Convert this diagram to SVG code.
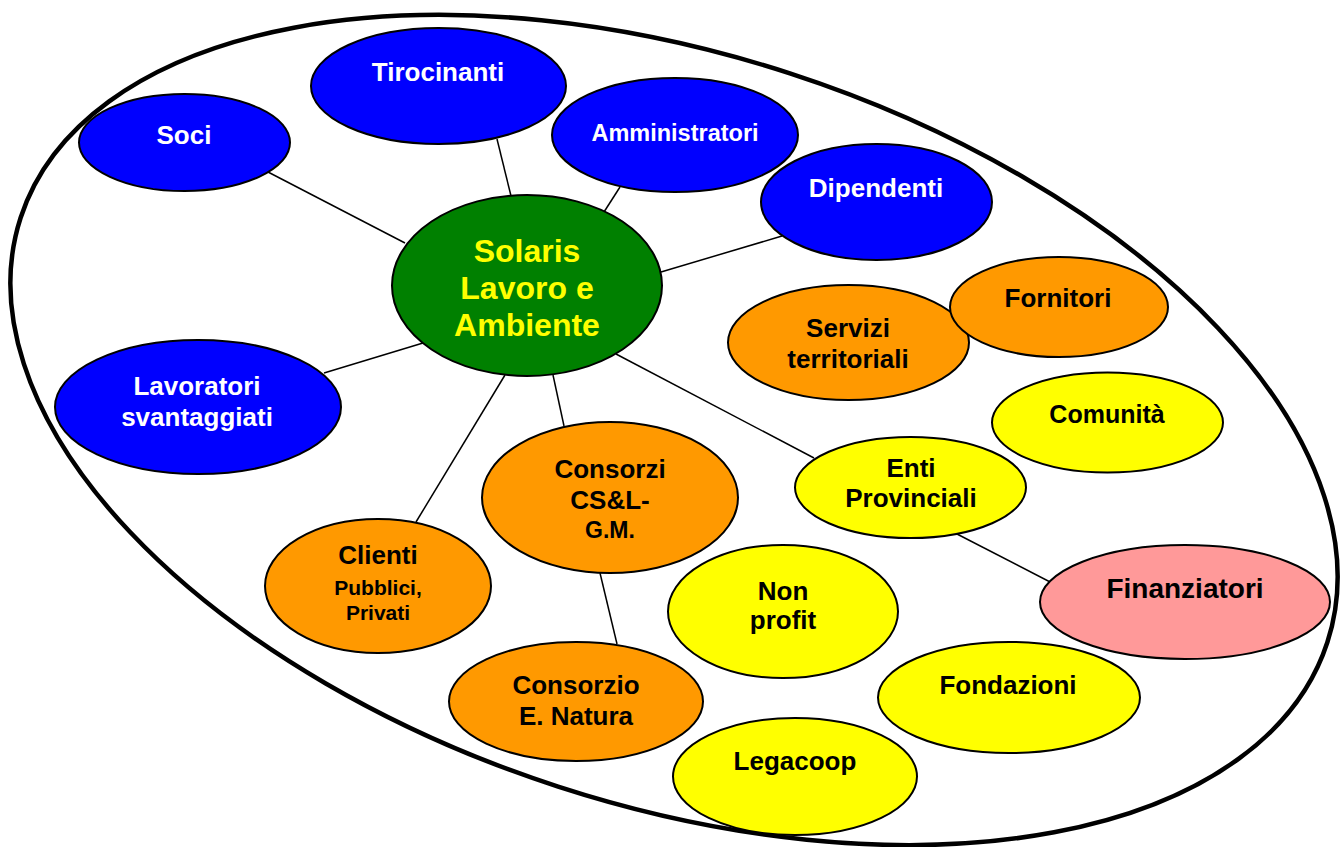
<svg xmlns="http://www.w3.org/2000/svg" width="1341" height="847" viewBox="0 0 1341 847">
<style>
.n ellipse{stroke:#000;stroke-width:2}
.blue{fill:#0000FF}
.green{fill:#008000}
.orange{fill:#FF9900}
.yellow{fill:#FFFF00}
.pink{fill:#FF9999}
text{font-family:"Liberation Sans",Arial,sans-serif;font-weight:bold;text-anchor:middle;font-size:26px}
.w{fill:#FFFFFF}
.k{fill:#000000}
.y{fill:#FFFF00}
#connectors line{stroke:#000;stroke-width:1.5}
</style>
<rect width="1341" height="847" fill="#FFFFFF"/>
<ellipse id="boundary" cx="674" cy="430" rx="687" ry="375" transform="rotate(18 674 430)" fill="none" stroke="#000" stroke-width="4.5"/>
<g id="connectors">
<line x1="268" y1="172" x2="405" y2="243"/>
<line x1="497" y1="139" x2="511" y2="196"/>
<line x1="620" y1="187" x2="604" y2="212"/>
<line x1="782" y1="236" x2="661" y2="272"/>
<line x1="324" y1="373" x2="423" y2="343"/>
<line x1="416" y1="522" x2="505" y2="375"/>
<line x1="553" y1="375" x2="564" y2="426"/>
<line x1="616" y1="354" x2="814" y2="458"/>
<line x1="600" y1="573" x2="617" y2="644"/>
<line x1="957" y1="534" x2="1054" y2="584"/>
</g>
<g id="tirocinanti" class="n"><ellipse class="blue" cx="438.5" cy="86" rx="127.5" ry="58"/><text class="w" x="438" y="81">Tirocinanti</text></g>
<g id="soci" class="n"><ellipse class="blue" cx="184.5" cy="142.5" rx="105.5" ry="48.5"/><text class="w" x="184" y="144">Soci</text></g>
<g id="amministratori" class="n"><ellipse class="blue" cx="675" cy="135" rx="123" ry="57"/><text class="w" x="675" y="141" style="font-size:23.5px">Amministratori</text></g>
<g id="dipendenti" class="n"><ellipse class="blue" cx="876.5" cy="202" rx="115.5" ry="58"/><text class="w" x="876" y="197">Dipendenti</text></g>
<g id="solaris" class="n"><ellipse class="green" cx="527" cy="285.5" rx="135" ry="90.5"/><text class="y" x="527" y="262" style="font-size:32px">Solaris</text><text class="y" x="527" y="299" style="font-size:32px">Lavoro e</text><text class="y" x="527" y="336" style="font-size:32px">Ambiente</text></g>
<g id="lavoratori" class="n"><ellipse class="blue" cx="198" cy="407" rx="143" ry="67"/><text class="w" x="197" y="395">Lavoratori</text><text class="w" x="197" y="426">svantaggiati</text></g>
<g id="servizi" class="n"><ellipse class="orange" cx="848.5" cy="342.5" rx="120.5" ry="57.5"/><text class="k" x="848" y="337">Servizi</text><text class="k" x="848" y="368">territoriali</text></g>
<g id="fornitori" class="n"><ellipse class="orange" cx="1059" cy="307" rx="109" ry="50"/><text class="k" x="1058" y="307">Fornitori</text></g>
<g id="comunita" class="n"><ellipse class="yellow" cx="1107.5" cy="422.5" rx="115.5" ry="50"/><text class="k" x="1107" y="423" style="font-size:25px">Comunità</text></g>
<g id="enti" class="n"><ellipse class="yellow" cx="910.5" cy="487.5" rx="115.5" ry="50.5"/><text class="k" x="911" y="477">Enti</text><text class="k" x="911" y="507">Provinciali</text></g>
<g id="consorzi" class="n"><ellipse class="orange" cx="610" cy="497.5" rx="128" ry="75.5"/><text class="k" x="610" y="478">Consorzi</text><text class="k" x="610" y="509">CS&amp;L-</text><text class="k" x="610" y="538" style="font-size:23px">G.M.</text></g>
<g id="clienti" class="n"><ellipse class="orange" cx="378" cy="586" rx="113" ry="67"/><text class="k" x="378" y="564">Clienti</text><text class="k" x="378" y="595" style="font-size:21px">Pubblici,</text><text class="k" x="378" y="620" style="font-size:21px">Privati</text></g>
<g id="nonprofit" class="n"><ellipse class="yellow" cx="783" cy="611.5" rx="115" ry="66.5"/><text class="k" x="783" y="600">Non</text><text class="k" x="783" y="629">profit</text></g>
<g id="finanziatori" class="n"><ellipse class="pink" cx="1185" cy="602" rx="145" ry="57"/><text class="k" x="1185" y="598" style="font-size:28px">Finanziatori</text></g>
<g id="consorzio" class="n"><ellipse class="orange" cx="576" cy="701.5" rx="127" ry="59.5"/><text class="k" x="576" y="694">Consorzio</text><text class="k" x="576" y="725">E. Natura</text></g>
<g id="fondazioni" class="n"><ellipse class="yellow" cx="1009" cy="697.5" rx="131" ry="55.5"/><text class="k" x="1008" y="694">Fondazioni</text></g>
<g id="legacoop" class="n"><ellipse class="yellow" cx="795" cy="776.5" rx="122" ry="58.5"/><text class="k" x="795" y="770">Legacoop</text></g>
</svg>
